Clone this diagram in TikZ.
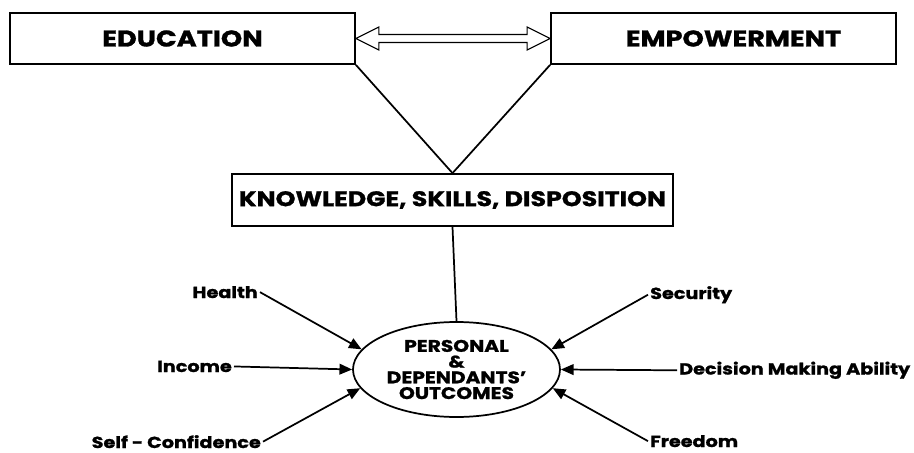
\documentclass[tikz,border=0pt]{standalone}
\usepackage{fontspec}
\setmainfont{Poppins}[FakeStretch=1.2, BoldFeatures={FakeBold=1.2}]
\usetikzlibrary{arrows.meta,calc,shapes.geometric}

\tikzset{every picture/.style={line width=1.3pt}}
\tikzset{
	box/.style={draw, rectangle, inner sep=0pt, font=\bfseries\fontsize{17}{20}\selectfont},
	outcome/.style={draw, ellipse, inner sep=0pt, align=center, font=\bfseries\fontsize{12.6}{11.8}\selectfont},
	factor/.style={inner sep=1pt, font=\bfseries\fontsize{12}{14}\selectfont},
	feed/.style={-{Triangle[length=9.5pt,width=8pt]}},
}

\begin{document}
\begin{tikzpicture}[x=0.75pt,y=0.75pt,yscale=-1,xscale=1]
		\useasboundingbox (0,0) rectangle (914,453);
		
		%Shape: Rectangle [id:edu]
		\node [box, minimum width=258.75pt, minimum height=38.25pt] (edu) at (182.5,38.5) {EDUCATION};
		%Shape: Rectangle [id:emp]
		\node [box, minimum width=258.75pt, minimum height=38.25pt] (emp) at (723.5,38.5) {\hspace*{15pt}EMPOWERMENT};
		%Shape: Rectangle [id:ksd]
		\node [box, minimum width=330.75pt, minimum height=39pt, font=\bfseries\fontsize{15.8}{18}\selectfont] (ksd) at (452.5,200) {KNOWLEDGE, SKILLS, DISPOSITION};
		%Shape: Ellipse [id:pdo]
		\node [outcome, minimum width=155.25pt, minimum height=71.25pt] (pdo) at (456.5,369.5) {PERSONAL\\\&\\DEPENDANTS'\\OUTCOMES};
		
		%Shape: Double Arrow [id:link]
		\draw [line width=0.8pt] (edu.east) -- ($(edu.east)+(23,-11.5)$) -- ($(edu.east)+(23,-4)$) -- ($(emp.west)+(-23,-4)$) -- ($(emp.west)+(-23,-11.5)$) -- (emp.west) -- ($(emp.west)+(-23,11.5)$) -- ($(emp.west)+(-23,4)$) -- ($(edu.east)+(23,4)$) -- ($(edu.east)+(23,11.5)$) -- cycle ;
		%Straight Lines [id:vleft]
		\draw (edu.south east) -- (ksd.north) ;
		%Straight Lines [id:vright]
		\draw (emp.south west) -- (ksd.north) ;
		%Straight Lines [id:stem]
		\draw (ksd.south) -- (pdo.north) ;
		
		% Text Node
		\node [factor, anchor=base east] (health) at (260,298) {Health};
		% Text Node
		\node [factor, anchor=base east] (income) at (234,372) {Income};
		% Text Node
		\node [factor, anchor=base east] (selfc) at (263,448) {Self - Confidence};
		% Text Node
		\node [factor, anchor=base west] (security) at (648,299) {Security};
		% Text Node
		\node [factor, anchor=base west] (decision) at (677,374.5) {Decision Making Ability};
		% Text Node
		\node [factor, anchor=base west] (freedom) at (648,447) {Freedom};
		
		%Arrows into the outcomes
		\draw [feed] (health.east) -- (pdo.168) ;
		\draw [feed] (income.east) -- (pdo.180) ;
		\draw [feed] (selfc.east) -- (pdo.191) ;
		\draw [feed] (security.west) -- (pdo.12) ;
		\draw [feed] (decision.west) -- (pdo.0) ;
		\draw [feed] (freedom.west) -- (pdo.349) ;
		
	\end{tikzpicture}
\end{document}
